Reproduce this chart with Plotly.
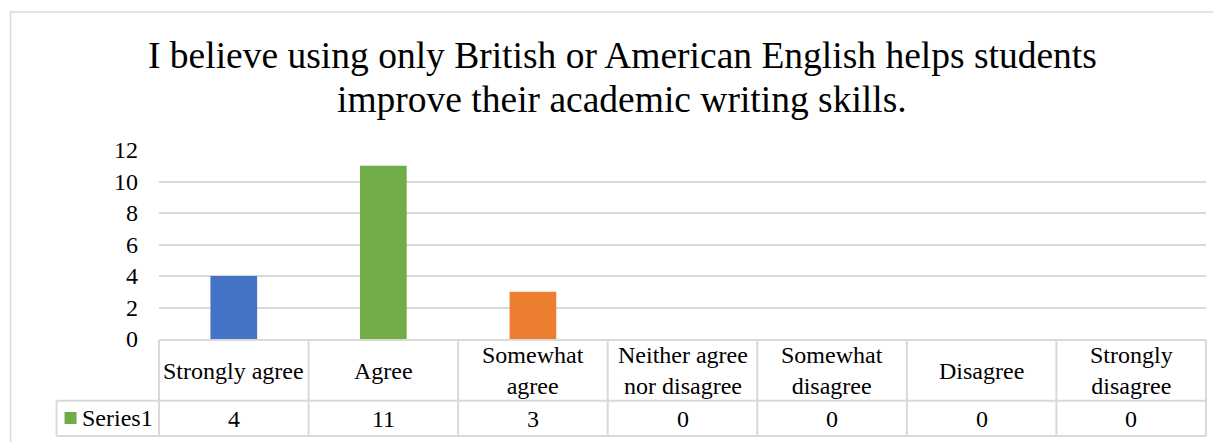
import plotly.graph_objects as go

categories = ["Strongly agree", "Agree", "Somewhat<br>agree", "Neither agree<br>nor disagree",
              "Somewhat<br>disagree", "Disagree", "Strongly<br>disagree"]
values = [4, 11, 3, 0, 0, 0, 0]
bar_colors = ["#4472C4", "#70AD47", "#ED7D31", "#A5A5A5", "#FFC000", "#5B9BD5", "#264478"]
series_name = "Series1"
y_ticks = [0, 2, 4, 6, 8, 10, 12]
title_lines = ["I believe using only British or American English helps students",
               "improve their academic writing skills."]

FONT = "Liberation Serif, Times New Roman, serif"
GRID = "#D9D9D9"
SMALL = 24

OFF = 8                      # default page margin around the figure
PAGE_W, PAGE_H = 1221, 442
W, H = PAGE_W - OFF, PAGE_H - OFF
# plot area in page pixels
PX0, PX1, PY0, PY1 = 158.5, 1206, 150, 339
L, R, T, B = PX0 - OFF, W - (PX1 - OFF), PY0 - OFF, H - (PY1 - OFF)
pw, ph = W - L - R, H - T - B


def px_x(p):  # page pixel x -> paper x
    return (p - PX0) / pw


def px_y(p):  # page pixel y -> paper y
    return (PY1 - p) / ph


fig = go.Figure(go.Bar(
    x=categories, y=values, marker=dict(color=bar_colors, line=dict(width=0)),
    name=series_name, showlegend=False, hoverinfo="x+y",
))

n = len(categories)
shapes = []
annotations = []

# outer chart border
shapes.append(dict(type="rect", xref="paper", yref="paper",
                   x0=px_x(10), x1=px_x(PAGE_W + 20), y0=px_y(12), y1=px_y(PAGE_H + 20),
                   line=dict(color=GRID, width=1.5), fillcolor="rgba(0,0,0,0)", layer="below"))

# data table lines (column boundaries follow the category slots)
y_top, y_mid, y_bot = px_y(340), px_y(400.7), px_y(436)
left_cell = px_x(56)
line_style = dict(color=GRID, width=2)
shapes.append(dict(type="line", xref="paper", yref="paper", x0=0, x1=1, y0=y_top, y1=y_top, line=line_style))
for yy in (y_mid, y_bot):
    shapes.append(dict(type="line", xref="paper", yref="paper", x0=left_cell, x1=1, y0=yy, y1=yy, line=line_style))
for i in range(n + 1):
    xb = i / n
    shapes.append(dict(type="line", xref="paper", yref="paper", x0=xb, x1=xb, y0=y_top, y1=y_bot, line=line_style))
shapes.append(dict(type="line", xref="paper", yref="paper", x0=left_cell, x1=left_cell, y0=y_mid, y1=y_bot, line=line_style))

# legend key in table
shapes.append(dict(type="rect", xref="paper", yref="paper",
                   x0=px_x(64), x1=px_x(76), y0=px_y(424), y1=px_y(412),
                   fillcolor="#70AD47", line=dict(width=0)))
annotations.append(dict(text=series_name, xref="paper", yref="paper", x=px_x(79), y=px_y(418),
                        xanchor="left", yanchor="middle", showarrow=False,
                        font=dict(family=FONT, size=SMALL, color="#000000")))

for c, v in zip(categories, values):
    annotations.append(dict(text=c, xref="x", yref="paper", x=c, y=px_y(370.5),
                            xanchor="center", yanchor="middle", showarrow=False,
                            font=dict(family=FONT, size=SMALL, color="#000000")))
    annotations.append(dict(text=str(v), xref="x", yref="paper", x=c, y=px_y(418.5),
                            xanchor="center", yanchor="middle", showarrow=False,
                            font=dict(family=FONT, size=SMALL, color="#000000")))

# title (two lines)
for txt, yc in zip(title_lines, (56, 99)):
    annotations.append(dict(text=txt, xref="paper", yref="paper", x=px_x(622), y=px_y(yc),
                            xanchor="center", yanchor="middle", showarrow=False,
                            font=dict(family=FONT, size=37.5, color="#000000")))

fig.update_layout(
    width=W, height=H,
    margin=dict(l=L, r=R, t=T, b=B, autoexpand=False),
    paper_bgcolor="white", plot_bgcolor="white",
    bargap=0.688,
    shapes=shapes, annotations=annotations,
    font=dict(family=FONT, size=SMALL, color="#000000"),
    xaxis=dict(type="category", range=[-0.5, n - 0.5], showticklabels=False,
               showgrid=False, zeroline=False, showline=False, fixedrange=True),
    yaxis=dict(range=[0, 12], tickvals=y_ticks, showgrid=True, gridcolor=GRID, gridwidth=1.5,
               zeroline=False, showline=False, ticks="", ticklabelstandoff=20,
               tickfont=dict(family=FONT, size=SMALL, color="#000000"), fixedrange=True),
)

fig.write_html("out.html", config={"displayModeBar": False})
